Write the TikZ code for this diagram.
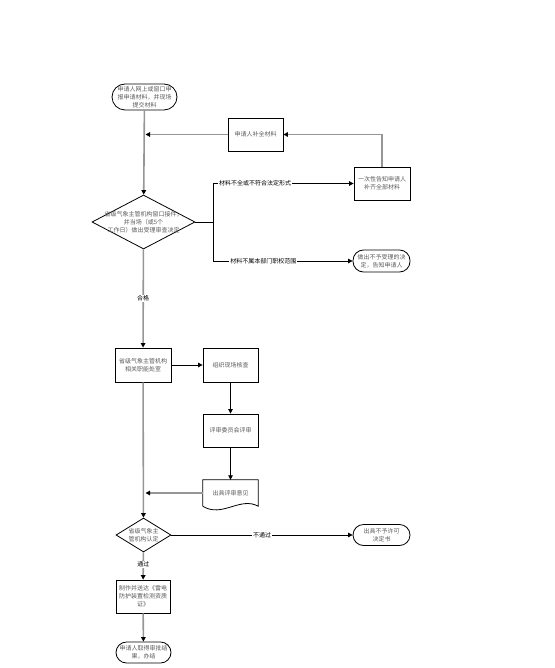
\documentclass[tikz,border=0pt]{standalone}
\usepackage{fontspec}
\setmainfont{Noto Sans CJK SC}
\usetikzlibrary{shapes.geometric,arrows.meta}
\definecolor{linegray}{RGB}{150,150,150}
\definecolor{txtgray}{RGB}{90,90,90}

\tikzset{
  txt/.style = {font=\fontsize{6}{8}\selectfont, text=txtgray, align=center},
  proc/.style = {txt, draw=black, line width=0.8pt, inner sep=1pt,
    minimum width=55pt, minimum height=33pt},% 处理框
  term/.style = {txt, draw=black, line width=0.8pt, inner sep=1pt,
    rounded corners=10.5pt, minimum width=57pt, minimum height=22pt},% 起止框
  judge/.style = {diamond, draw=black, line width=0.8pt, inner sep=0pt},% 判断框
  flow/.style = {draw=linegray, line width=1.6pt,
    -{Triangle[length=4.5pt,width=4.5pt,black]}},% 主流程线
  link/.style = {draw=black, line width=0.8pt,
    -{Triangle[length=4.5pt,width=4.5pt]}},% 分支线
  tag/.style = {font=\fontsize{6}{8}\selectfont, fill=white, inner sep=1pt}% 连线说明
}

\begin{document}
\begin{tikzpicture}[x=1pt, y=-1pt]
  \useasboundingbox (0,0) rectangle (554,668);

  \node [term, minimum width=65pt, minimum height=26pt, rounded corners=13pt] (start) at (144.5,97)
    {申请人网上或窗口申\\报申请材料，并现场\\提交材料};
  \node [proc] (supply) at (255.5,134.5) {申请人补全材料};
  \node [proc, minimum width=56pt] (notify) at (382,183.5) {一次性告知申请人\\补齐全部材料};
  \node [judge, minimum width=103pt, minimum height=54pt,
    label={[txt]center:{省级气象主管机构窗口接件，\\并当场（或5个\\工作日）做出受理审查决定}}] (accept) at (143.5,222) {};
  \node [term] (reject) at (381.5,261) {做出不予受理的决\\定，告知申请人};
  \node [proc, minimum width=56pt, minimum height=34pt] (dept) at (143,365) {省级气象主管机构\\相关职能处室};
  \node [proc, minimum height=34pt] (check) at (230.5,365) {组织现场核查};
  \node [proc] (review) at (230.5,430.5) {评审委员会评审};
  \node [txt, minimum width=55pt, minimum height=26pt, inner sep=1pt] (opinion) at (230.5,493) {出具评审意见};
  \node [judge, minimum width=55pt, minimum height=34pt,
    label={[txt]center:{省级气象主\\管机构认定}}] (decide) at (143.5,535) {};
  \node [term, minimum height=21pt] (deny) at (381.5,535) {出具不予许可\\决定书};
  \node [proc, minimum width=54pt] (issue) at (143,596.5) {制作并送达《雷电\\防护装置检测资质\\证》};
  \node [term, minimum width=55pt, minimum height=21pt] (finish) at (143.5,652.5) {申请人取得审批结\\果，办结};

  \coordinate (back1) at (145.5,134.5);
  \coordinate (back2) at (145.5,493);
  \coordinate (fork) at (213,222);

  \draw [line width=0.8pt] (opinion.south west) -- (opinion.north west) -- (opinion.north east)
    -- (opinion.south east) .. controls +(-18,-10) and +(19,12) .. (opinion.south west);

  \draw [flow] (start) -- (accept);
  \draw [flow] (notify) |- (supply);
  \draw [flow] (supply) -- (back1);
  \draw [link] (accept.east) -- (fork) |- node [tag, pos=0.65] {材料不全或不符合法定形式} (notify);
  \draw [link] (fork) |- node [tag, pos=0.68] {材料不属本部门职权范围} (reject);
  \draw [flow] (accept) -- node [tag] {合格} (dept);
  \draw [link] (dept) -- (check);
  \draw [link] (check) -- (review);
  \draw [link] (review) -- (opinion);
  \draw [flow] (opinion) -- (back2);
  \draw [flow] (dept) -- (decide);
  \draw [link] (decide) -- node [tag] {不通过} (deny);
  \draw [flow] (decide) -- node [tag, pos=0.45] {通过} (issue);
  \draw [flow] (issue) -- (finish);
\end{tikzpicture}
\end{document}
